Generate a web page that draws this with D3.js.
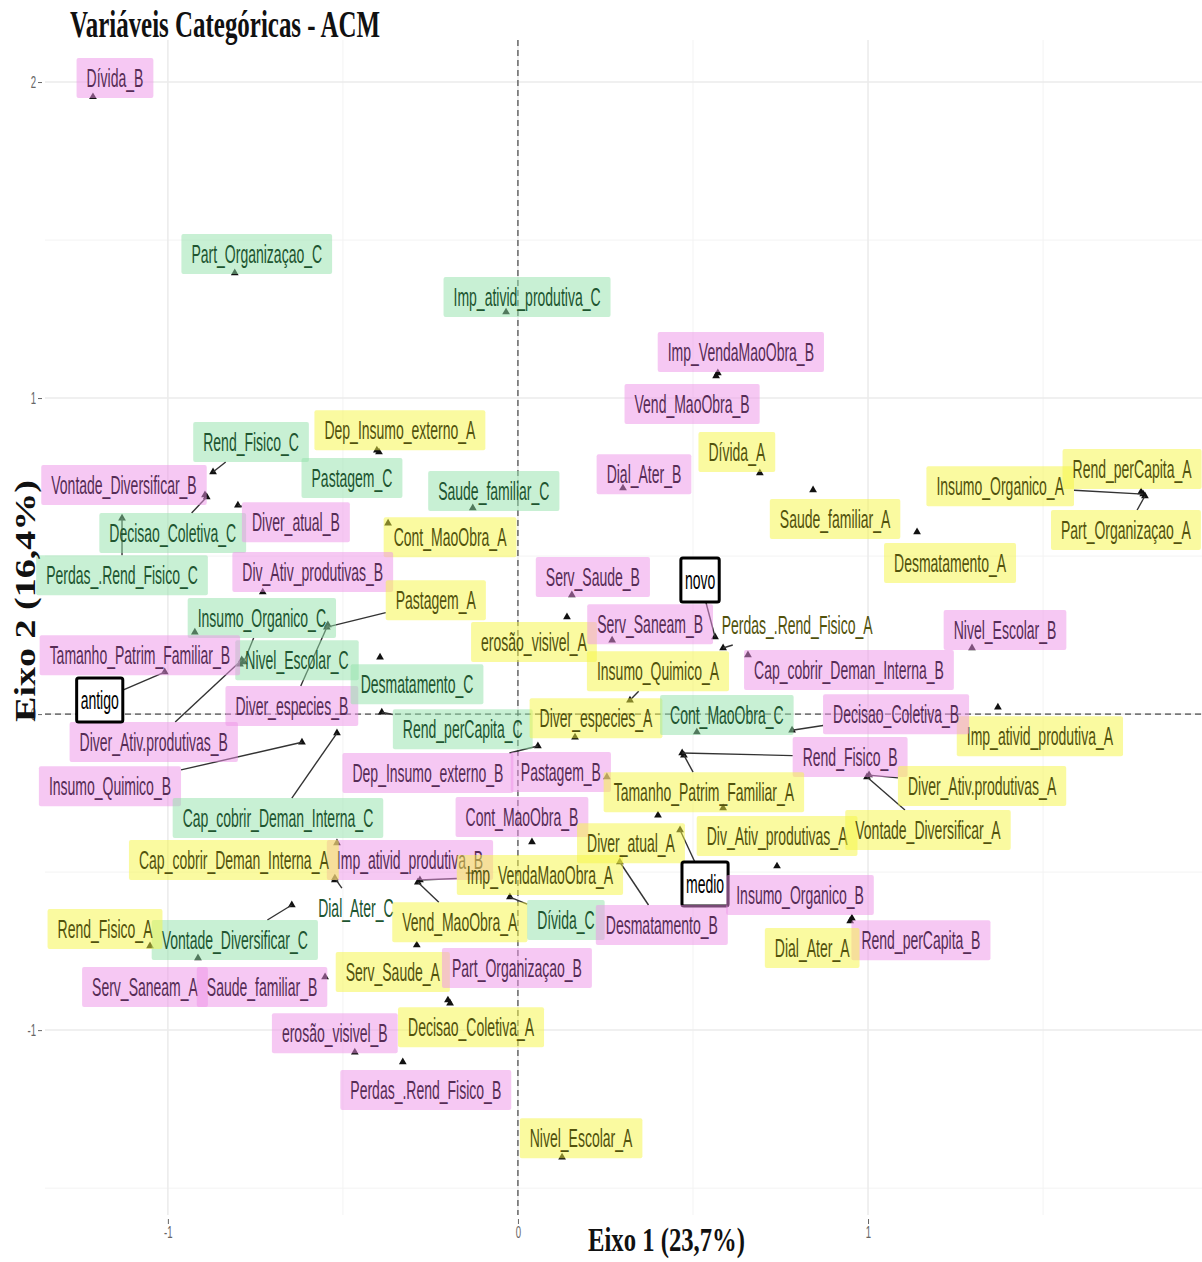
<!DOCTYPE html>
<html>
<head>
<meta charset="utf-8">
<script src="https://cdn.jsdelivr.net/npm/d3@7"></script>
<style>
  html, body { margin: 0; padding: 0; background: #fff; }
  svg { display: block; }
</style>
</head>
<body>
<svg id="chart" width="1202" height="1262"></svg>
<script>
// Coordenadas das categorias no plano fatorial da ACM (Eixo 1 x Eixo 2)
const categorias = [
  "Dívida_B", "Part_Organizaçao_C", "Imp_ativid_produtiva_C", "Imp_VendaMaoObra_B", "Vend_MaoObra_B",
  "Dívida_A", "Dial_Ater_B", "Saude_familiar_C", "Dep_Insumo_externo_A", "Pastagem_C",
  "Rend_Fisico_C", "Vontade_Diversificar_B", "Decisao_Coletiva_C", "Diver_atual_B", "Cont_MaoObra_A",
  "Perdas_.Rend_Fisico_C", "Div_Ativ_produtivas_B", "Pastagem_A", "Diver_especies_B", "Insumo_Organico_C",
  "Nivel_Escolar_C", "Diver_Ativ.produtivas_B", "Tamanho_Patrim_Familiar_B", "antigo", "Desmatamento_C",
  "Rend_perCapita_C", "Dep_Insumo_externo_B", "Insumo_Quimico_B", "Cap_cobrir_Deman_Interna_C", "Imp_ativid_produtiva_B",
  "Cap_cobrir_Deman_Interna_A", "Dial_Ater_C", "Vontade_Diversificar_C", "Rend_Fisico_A", "Serv_Saneam_A",
  "Saude_familiar_B", "erosão_visivel_B", "Perdas_.Rend_Fisico_B", "Serv_Saude_A", "Part_Organizaçao_B",
  "Decisao_Coletiva_A", "Vend_MaoObra_A", "Imp_VendaMaoObra_A", "Dívida_C", "Cont_MaoObra_B",
  "Nivel_Escolar_A", "Pastagem_B", "Diver_especies_A", "Cont_MaoObra_C", "erosão_visivel_A",
  "Serv_Saude_B", "Serv_Saneam_B", "Insumo_Quimico_A", "novo", "Perdas_.Rend_Fisico_A",
  "Cap_cobrir_Deman_Interna_B", "Nivel_Escolar_B", "Desmatamento_A", "Saude_familiar_A", "Insumo_Organico_A",
  "Rend_perCapita_A", "Part_Organizaçao_A", "Imp_ativid_produtiva_A", "Decisao_Coletiva_B", "Rend_Fisico_B",
  "Tamanho_Patrim_Familiar_A", "Div_Ativ_produtivas_A", "Diver_atual_A", "medio", "Desmatamento_B",
  "Insumo_Organico_B", "Rend_perCapita_B", "Dial_Ater_A", "Vontade_Diversificar_A", "Diver_Ativ.produtivas_A"
];

const eixo1 = [
  -1.214, -0.809, -0.034, 0.571, 0.566,
  0.691, 0.300, -0.129, -0.403, -0.397,
  -0.871, -0.894, -0.889, -0.800, -0.371,
  -1.131, -0.729, -0.546, -0.543, -0.783,
  -0.794, -0.789, -0.923, -1.009, -0.394,
  -0.389, 0.057, -0.617, -0.517, -0.517,
  -0.523, -0.523, -0.646, -1.051, -0.914,
  -0.551, -0.466, -0.329, -0.289, -0.200,
  -0.194, -0.286, -0.280, -0.023, 0.040,
  0.126, 0.254, 0.163, 0.511, 0.140,
  0.154, 0.269, 0.320, 0.563, 0.586,
  0.657, 1.297, 1.140, 0.843, 1.786,
  1.780, 1.791, 1.371, 0.783, 0.469,
  0.474, 0.586, 0.400, 0.463, 0.291,
  0.740, 0.954, 0.949, 0.997, 1.003
];

const eixo2 = [
  1.953, 1.396, 1.272, 1.079, 1.070,
  0.763, 0.715, 0.652, 0.835, 0.829,
  0.766, 0.693, 0.687, 0.661, 0.604,
  0.620, 0.386, 0.275, 0.282, 0.165,
  0.158, 0.171, 0.259, 0.133, 0.180,
  0.006, -0.101, -0.089, -0.060, -0.408,
  -0.525, -0.519, -0.604, -0.734, -0.772,
  -0.832, -1.070, -1.101, -0.731, -0.905,
  -0.915, -0.532, -0.525, -0.579, -0.405,
  -1.402, -0.199, -0.073, -0.057, 0.307,
  0.377, 0.234, 0.044, 0.244, 0.209,
  0.187, 0.209, 0.576, 0.709, 0.696,
  0.703, 0.690, 0.022, -0.051, -0.123,
  -0.130, -0.297, -0.320, -0.367, -0.468,
  -0.481, -0.646, -0.655, -0.199, -0.193
];

// Grupo de cor do rótulo: A (amarelo), B (rosa), C (verde), S (variável suplementar "tempo")
const grupo = [
  "B", "C", "C", "B", "B",
  "A", "B", "C", "A", "C",
  "C", "B", "C", "B", "A",
  "C", "B", "A", "B", "C",
  "C", "B", "B", "S", "C",
  "C", "B", "B", "C", "B",
  "A", "C", "C", "A", "B",
  "B", "B", "B", "A", "B",
  "A", "A", "A", "C", "B",
  "A", "B", "A", "C", "A",
  "B", "B", "A", "S", "A",
  "B", "B", "A", "A", "A",
  "A", "A", "A", "B", "B",
  "A", "A", "A", "S", "B",
  "B", "B", "A", "A", "A"
];

// Rótulos sem caixa de fundo
const semCaixa = ["Perdas_.Rend_Fisico_A", "Dial_Ater_C"];

// Deslocamento de cada rótulo (px) em relação ao seu ponto e se há segmento de ligação
const rotulos = [
  [22, -19, 0], [22, -19, 0], [21, -15, 0], [23, -21, 0], [-24, 28, 0],
  [-23, -21, 0], [21, -14, 0], [21, -17, 0], [23, -20, 0], [-27, 26, 0],
  [38, -30, 1], [-81, -10, 0], [-34, 36, 1], [58, 17, 1], [62, 14, 0],
  [0, 57, 1], [50, -20, 0], [109, -27, 1], [-36, 81, 1], [18, -44, 1],
  [57, -4, 0], [-88, 82, 1], [-55, 23, 0], [-65, 28, 1], [37, 27, 0],
  [81, 17, 1], [-110, 27, 1], [-192, 44, 1], [-59, 85, 1], [73, 17, 0],
  [-101, -20, 0], [21, 30, 1], [-57, 35, 1], [-45, -17, 0], [-53, 29, 0],
  [-63, 10, 0], [-20, -19, 0], [23, 28, 0], [-24, 27, 0], [69, -32, 0],
  [21, 24, 0], [42, 40, 1], [120, -5, 1], [56, 23, 1], [-10, -25, 0],
  [19, -19, 0], [-46, -5, 0], [21, -19, 0], [30, -17, 0], [-33, 25, 0],
  [21, -18, 0], [38, -16, 0], [28, -29, 1], [-15, -57, 1], [74, -23, 1],
  [101, 15, 0], [33, -18, 0], [33, 31, 0], [22, 29, 0], [-143, -8, 1],
  [-9, -23, 0], [-19, 34, 1], [42, 29, 0], [104, -16, 1], [168, 4, 1],
  [20, 37, 1], [54, 28, 0], [-27, 28, 0], [25, 54, 1], [42, 63, 1],
  [23, 29, 0], [69, 22, 0], [-38, 27, 0], [61, 53, 1], [113, 11, 1]
];

const ticksX = [-1, 0, 1];
const ticksY = [-1, 0, 1, 2];
const gradeSecX = [-0.5, 0.5, 1.5];
const gradeSecY = [-1.5, -0.5, 0.5, 1.5];

const tituloGrafico = "Variáveis  Categóricas - ACM";
const tituloX = "Eixo 1 (23,7%)";
const tituloY = "Eixo 2 (16,4%)";

// ---------- Estilos ----------
const estilo = {
  A: { fill: "#f5f541", text: "#52520c" },
  B: { fill: "#ed91e7", text: "#562c56" },
  C: { fill: "#91e1a9", text: "#205530" },
  S: { fill: "#ffffff", text: "#000000" }
};
const SX = 0.56;        // compressão horizontal da fonte
const FONT = 25;
const PAD = 10;
const BOX_H = 40;

const svg = d3.select("#chart");
const panel = { left: 45, right: 1202, top: 40, bottom: 1215 };

const x = d3.scaleLinear().domain([-1.351, 1.954]).range([panel.left, panel.right]);
const y = d3.scaleLinear().domain([-1.585, 2.133]).range([panel.bottom, panel.top]);

// Grade
const grade = svg.append("g");
grade.selectAll("line.sx").data(gradeSecX).join("line")
  .attr("x1", d => x(d)).attr("x2", d => x(d))
  .attr("y1", panel.top).attr("y2", panel.bottom)
  .attr("stroke", "#f3f3f3").attr("stroke-width", 1);
grade.selectAll("line.sy").data(gradeSecY).join("line")
  .attr("y1", d => y(d)).attr("y2", d => y(d))
  .attr("x1", panel.left).attr("x2", panel.right)
  .attr("stroke", "#f3f3f3").attr("stroke-width", 1);
grade.selectAll("line.mx").data(ticksX).join("line")
  .attr("x1", d => x(d)).attr("x2", d => x(d))
  .attr("y1", panel.top).attr("y2", panel.bottom)
  .attr("stroke", "#ebebeb").attr("stroke-width", 1.5);
grade.selectAll("line.my").data(ticksY).join("line")
  .attr("y1", d => y(d)).attr("y2", d => y(d))
  .attr("x1", panel.left).attr("x2", panel.right)
  .attr("stroke", "#ebebeb").attr("stroke-width", 1.5);

// Linhas de referência em zero
svg.append("line")
  .attr("x1", x(0)).attr("x2", x(0)).attr("y1", panel.top).attr("y2", panel.bottom)
  .attr("stroke", "#222").attr("stroke-width", 1).attr("stroke-dasharray", "6,4");
svg.append("line")
  .attr("y1", y(0)).attr("y2", y(0)).attr("x1", panel.left).attr("x2", panel.right)
  .attr("stroke", "#222").attr("stroke-width", 1).attr("stroke-dasharray", "6,4");

// Eixos
const axY = svg.append("g").attr("transform", `translate(${panel.left - 3},0)`)
  .call(d3.axisLeft(y).tickValues(ticksY).tickSize(4).tickFormat(d => String(d)));
const axX = svg.append("g").attr("transform", `translate(0,${panel.bottom + 4})`)
  .call(d3.axisBottom(x).tickValues(ticksX).tickSize(5).tickFormat(d => String(d)));
[axY, axX].forEach(ax => {
  ax.select(".domain").remove();
  ax.selectAll(".tick line").attr("stroke", "#666");
  ax.selectAll(".tick text")
    .attr("fill", "#666").attr("font-family", "Liberation Sans, Arial, sans-serif")
    .attr("font-size", 16);
});
axY.selectAll(".tick text").attr("x", -6 / 0.6).attr("transform", "scale(0.6,1)");
axX.selectAll(".tick text").attr("transform", "scale(0.6,1)");

// Camadas
const camPontos = svg.append("g");
const camSeg = svg.append("g");
const camRot = svg.append("g");

const dados = categorias.map((nome, i) => ({
  nome, px: x(eixo1[i]), py: y(eixo2[i]), g: grupo[i],
  dx: rotulos[i][0], dy: rotulos[i][1], seg: rotulos[i][2]
}));

// Pontos (triângulos)
camPontos.selectAll("path").data(dados).join("path")
  .attr("d", d3.symbol(d3.symbolTriangle).size(26))
  .attr("transform", d => `translate(${d.px},${d.py})`)
  .attr("fill", "#111");

// Rótulos com caixas e segmentos
dados.forEach(d => {
  const lx = d.px + d.dx, ly = d.py + d.dy;
  const st = estilo[d.g];
  const g = camRot.append("g").attr("transform", `translate(${lx},${ly})`);
  const inner = g.append("g").attr("transform", `scale(${SX},1)`);
  const t = inner.append("text")
    .attr("text-anchor", "middle").attr("dy", "0.36em")
    .attr("font-family", "Liberation Sans, Arial, sans-serif")
    .attr("font-size", FONT)
    .attr("fill", st.text)
    .text(d.nome);
  const w = t.node().getComputedTextLength() * SX;
  const hw = w / 2 + PAD, hh = BOX_H / 2;
  const box = g.insert("rect", ":first-child")
    .attr("x", -hw).attr("y", -hh).attr("width", 2 * hw).attr("height", 2 * hh).attr("rx", 2);
  if (d.g === "S") {
    box.attr("x", -hw + 6).attr("width", 2 * hw - 12).attr("y", -hh - 2).attr("height", 2 * hh + 4)
      .attr("fill", "#fff").attr("stroke", "#000").attr("stroke-width", 3);
  } else if (semCaixa.includes(d.nome)) {
    box.attr("fill", "none");
  } else {
    box.attr("fill", st.fill).attr("fill-opacity", 0.5);
  }
  if (d.seg) {
    const vx = d.px - lx, vy = d.py - ly;
    const k = Math.min(vx !== 0 ? (d.g === "S" ? hw - 6 : hw) / Math.abs(vx) : Infinity,
                       vy !== 0 ? hh / Math.abs(vy) : Infinity);
    camSeg.append("line")
      .attr("x1", lx + vx * k).attr("y1", ly + vy * k)
      .attr("x2", d.px).attr("y2", d.py)
      .attr("stroke", "#333").attr("stroke-width", 1.4);
  }
});

// Títulos
const serif = "Liberation Serif, 'Times New Roman', serif";
svg.append("text")
  .attr("x", 70).attr("y", 37)
  .attr("font-family", serif).attr("font-weight", "bold").attr("font-size", 38)
  .attr("textLength", 310).attr("lengthAdjust", "spacingAndGlyphs")
  .attr("fill", "#111").text(tituloGrafico);
svg.append("text")
  .attr("x", 588).attr("y", 1251)
  .attr("font-family", serif).attr("font-weight", "bold").attr("font-size", 34)
  .attr("textLength", 157).attr("lengthAdjust", "spacingAndGlyphs")
  .attr("fill", "#111").text(tituloX);
svg.append("text")
  .attr("transform", "translate(35,722) scale(0.8,1) rotate(-90)")
  .attr("x", 0).attr("y", 0)
  .attr("font-family", serif).attr("font-weight", "bold").attr("font-size", 38)
  .attr("textLength", 242).attr("lengthAdjust", "spacingAndGlyphs")
  .attr("fill", "#111").text(tituloY);
</script>
</body>
</html>
